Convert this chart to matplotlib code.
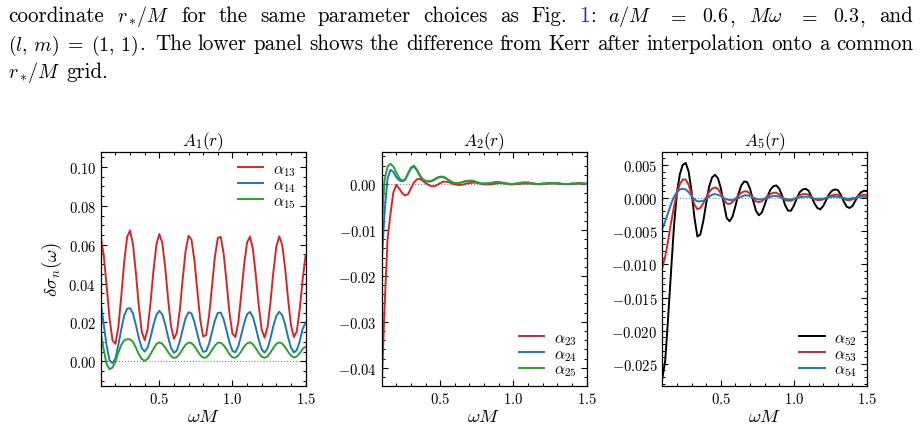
import numpy as np
import matplotlib
matplotlib.use("Agg")
import matplotlib.pyplot as plt
from matplotlib.ticker import MultipleLocator, FuncFormatter
from matplotlib.transforms import IdentityTransform

# --- style : serif / Computer Modern, ticks in ---
plt.rcParams.update({
    "font.family": "serif",
    "font.serif": ["cmr10"],
    "mathtext.fontset": "cm",
    "axes.unicode_minus": False,
    "axes.linewidth": 0.9,
    "xtick.direction": "in",
    "ytick.direction": "in",
    "xtick.top": True,
    "ytick.right": True,
    "xtick.major.size": 4.0,
    "ytick.major.size": 4.0,
    "xtick.minor.size": 2.2,
    "ytick.minor.size": 2.2,
    "xtick.major.width": 0.8,
    "ytick.major.width": 0.8,
    "xtick.minor.width": 0.7,
    "ytick.minor.width": 0.7,
    "xtick.minor.visible": True,
    "ytick.minor.visible": True,
})

# --- data ---
omega = np.round(np.arange(0.10, 1.5001, 0.02), 2)

# A1(r)
a13 = [0.0639, 0.0545, 0.0387, 0.0220, 0.0108, 0.0090, 0.0176, 0.0336, 0.0513, 0.0640,
       0.0673, 0.0602, 0.0454, 0.0284, 0.0153, 0.0109, 0.0166, 0.0302, 0.0467, 0.0600,
       0.0655, 0.0611, 0.0484, 0.0321, 0.0181, 0.0116, 0.0148, 0.0265, 0.0425, 0.0569,
       0.0646, 0.0626, 0.0518, 0.0362, 0.0214, 0.0128, 0.0135, 0.0234, 0.0386, 0.0538,
       0.0635, 0.0640, 0.0552, 0.0404, 0.0248, 0.0142, 0.0125, 0.0202, 0.0343, 0.0500,
       0.0612, 0.0641, 0.0576, 0.0440, 0.0284, 0.0163, 0.0122, 0.0177, 0.0306, 0.0463,
       0.0591, 0.0643, 0.0600, 0.0479, 0.0322, 0.0187, 0.0125, 0.0155, 0.0269, 0.0423,
       0.0545]
a14 = [0.0300, 0.0190, 0.0080, 0.0005, -0.0009, 0.0015, 0.0085, 0.0165, 0.0235, 0.0270,
       0.0274, 0.0246, 0.0187, 0.0120, 0.0068, 0.0050, 0.0072, 0.0124, 0.0188, 0.0239,
       0.0260, 0.0242, 0.0191, 0.0126, 0.0070, 0.0044, 0.0056, 0.0103, 0.0166, 0.0223,
       0.0253, 0.0246, 0.0203, 0.0141, 0.0083, 0.0049, 0.0052, 0.0090, 0.0151, 0.0211,
       0.0249, 0.0251, 0.0216, 0.0157, 0.0096, 0.0054, 0.0047, 0.0078, 0.0135, 0.0197,
       0.0243, 0.0254, 0.0228, 0.0173, 0.0110, 0.0061, 0.0045, 0.0067, 0.0119, 0.0183,
       0.0234, 0.0255, 0.0238, 0.0189, 0.0125, 0.0071, 0.0046, 0.0058, 0.0104, 0.0167,
       0.0200]
a15 = [0.0145, 0.0060, -0.0015, -0.0040, -0.0032, 0.0000, 0.0045, 0.0085, 0.0108, 0.0114,
       0.0113, 0.0100, 0.0071, 0.0037, 0.0012, 0.0003, 0.0013, 0.0037, 0.0065, 0.0089,
       0.0098, 0.0091, 0.0072, 0.0048, 0.0027, 0.0017, 0.0022, 0.0040, 0.0064, 0.0086,
       0.0097, 0.0094, 0.0078, 0.0055, 0.0032, 0.0019, 0.0020, 0.0035, 0.0058, 0.0081,
       0.0096, 0.0096, 0.0083, 0.0061, 0.0037, 0.0021, 0.0019, 0.0030, 0.0052, 0.0076,
       0.0093, 0.0098, 0.0088, 0.0067, 0.0043, 0.0024, 0.0018, 0.0026, 0.0046, 0.0070,
       0.0090, 0.0098, 0.0092, 0.0073, 0.0050, 0.0030, 0.0020, 0.0025, 0.0042, 0.0065,
       0.0075]

# A2(r)
a23 = [-0.0440, -0.0265, -0.0120, -0.0065, -0.0018, -0.0002, -0.0010, -0.0020, -0.0025, -0.0022,
       -0.0010, 0.0003, 0.0010, 0.0011, 0.0007, 0.0002, -0.0002, -0.0005, -0.0005, -0.0002,
       0.0002, 0.0005, 0.0005, 0.0004, 0.0001, -0.0001, -0.0002, -0.0002, -0.0001, 0.0001,
       0.0002, 0.0003, 0.0003, 0.0002, 0.0000, -0.0001, -0.0001, -0.0001, 0.0000, 0.0001,
       0.0002, 0.0002, 0.0001, 0.0000, -0.0001, -0.0001, 0.0000, 0.0000, 0.0001, 0.0001,
       0.0001, 0.0001, 0.0000, 0.0000, -0.0001, 0.0000, 0.0000, 0.0001, 0.0001, 0.0001,
       0.0001, 0.0000, 0.0000, 0.0000, 0.0000, 0.0000, 0.0000, 0.0001, 0.0001, 0.0000,
       0.0000]
a24 = [-0.0170, -0.0060, 0.0012, 0.0031, 0.0026, 0.0015, 0.0008, 0.0006, 0.0009, 0.0022,
       0.0034, 0.0038, 0.0030, 0.0018, 0.0010, 0.0006, 0.0005, 0.0006, 0.0009, 0.0013,
       0.0015, 0.0015, 0.0012, 0.0008, 0.0004, 0.0002, 0.0002, 0.0003, 0.0005, 0.0006,
       0.0007, 0.0007, 0.0005, 0.0003, 0.0001, 0.0001, 0.0001, 0.0002, 0.0003, 0.0004,
       0.0004, 0.0003, 0.0002, 0.0001, 0.0000, 0.0000, 0.0001, 0.0002, 0.0003, 0.0003,
       0.0003, 0.0002, 0.0001, 0.0000, 0.0000, 0.0001, 0.0001, 0.0002, 0.0002, 0.0002,
       0.0002, 0.0001, 0.0000, 0.0000, 0.0000, 0.0001, 0.0001, 0.0002, 0.0002, 0.0001,
       0.0001]
a25 = [-0.0090, 0.0010, 0.0038, 0.0044, 0.0038, 0.0025, 0.0013, 0.0007, 0.0010, 0.0023,
       0.0036, 0.0040, 0.0032, 0.0020, 0.0011, 0.0007, 0.0006, 0.0007, 0.0010, 0.0014,
       0.0016, 0.0016, 0.0013, 0.0008, 0.0004, 0.0002, 0.0002, 0.0003, 0.0005, 0.0007,
       0.0007, 0.0007, 0.0005, 0.0003, 0.0001, 0.0001, 0.0001, 0.0002, 0.0003, 0.0004,
       0.0004, 0.0003, 0.0002, 0.0001, 0.0000, 0.0000, 0.0001, 0.0002, 0.0003, 0.0003,
       0.0003, 0.0002, 0.0001, 0.0000, 0.0000, 0.0001, 0.0001, 0.0002, 0.0002, 0.0002,
       0.0002, 0.0001, 0.0000, 0.0000, 0.0000, 0.0001, 0.0001, 0.0002, 0.0002, 0.0001,
       0.0001]

# A5(r)
a52 = [-0.0272, -0.0245, -0.0180, -0.0110, -0.0042, 0.0008, 0.0036, 0.0050, 0.0053, 0.0040,
       0.0010, -0.0030, -0.0058, -0.0055, -0.0035, -0.0008, 0.0017, 0.0031, 0.0035, 0.0030,
       0.0015, -0.0008, -0.0030, -0.0035, -0.0028, -0.0012, 0.0006, 0.0019, 0.0025, 0.0024,
       0.0014, -0.0003, -0.0019, -0.0026, -0.0022, -0.0010, 0.0003, 0.0013, 0.0018, 0.0019,
       0.0014, 0.0003, -0.0011, -0.0019, -0.0019, -0.0011, 0.0000, 0.0009, 0.0013, 0.0014,
       0.0011, 0.0002, -0.0008, -0.0015, -0.0017, -0.0012, -0.0003, 0.0006, 0.0011, 0.0013,
       0.0012, 0.0005, -0.0005, -0.0013, -0.0015, -0.0012, -0.0004, 0.0004, 0.0009, 0.0011,
       0.0011]
a53 = [-0.0105, -0.0088, -0.0064, -0.0037, -0.0013, 0.0007, 0.0021, 0.0028, 0.0028, 0.0020,
       0.0005, -0.0010, -0.0017, -0.0015, -0.0008, 0.0001, 0.0009, 0.0014, 0.0016, 0.0014,
       0.0007, -0.0002, -0.0008, -0.0009, -0.0006, -0.0001, 0.0004, 0.0008, 0.0010, 0.0010,
       0.0006, 0.0000, -0.0005, -0.0006, -0.0005, -0.0001, 0.0003, 0.0006, 0.0008, 0.0008,
       0.0005, 0.0001, -0.0003, -0.0004, -0.0004, -0.0002, 0.0001, 0.0004, 0.0006, 0.0006,
       0.0005, 0.0001, -0.0002, -0.0003, -0.0003, -0.0002, 0.0000, 0.0003, 0.0004, 0.0005,
       0.0005, 0.0002, -0.0001, -0.0003, -0.0003, -0.0002, 0.0000, 0.0003, 0.0004, 0.0005,
       0.0005]
a54 = [-0.0046, -0.0035, -0.0022, -0.0009, 0.0002, 0.0009, 0.0013, 0.0014, 0.0013, 0.0009,
       0.0003, -0.0002, -0.0005, -0.0005, -0.0004, -0.0001, 0.0002, 0.0005, 0.0006, 0.0005,
       0.0003, 0.0000, -0.0002, -0.0003, -0.0003, -0.0002, 0.0000, 0.0002, 0.0004, 0.0004,
       0.0003, 0.0001, -0.0001, -0.0002, -0.0002, -0.0001, 0.0000, 0.0002, 0.0003, 0.0003,
       0.0002, 0.0000, -0.0001, -0.0002, -0.0002, -0.0001, 0.0000, 0.0001, 0.0002, 0.0002,
       0.0002, 0.0001, -0.0001, -0.0001, -0.0001, -0.0001, 0.0000, 0.0001, 0.0002, 0.0002,
       0.0002, 0.0001, 0.0000, -0.0001, -0.0001, 0.0000, 0.0000, 0.0001, 0.0002, 0.0002,
       0.0002]

RED, BLUE, GREEN, BLACK = "#d62728", "#1f77b4", "#2ca02c", "black"

panels = [
    (r"$A_1(r)$", [(a13, RED, r"$\alpha_{13}$"), (a14, BLUE, r"$\alpha_{14}$"), (a15, GREEN, r"$\alpha_{15}$")],
     (-0.0125, 0.1075), 0.02, 0.005, 2, "upper right"),
    (r"$A_2(r)$", [(a23, RED, r"$\alpha_{23}$"), (a24, BLUE, r"$\alpha_{24}$"), (a25, GREEN, r"$\alpha_{25}$")],
     (-0.0439, 0.0069), 0.01, 0.002, 2, "lower right"),
    (r"$A_5(r)$", [(a52, BLACK, r"$\alpha_{52}$"), (a53, RED, r"$\alpha_{53}$"), (a54, BLUE, r"$\alpha_{54}$")],
     (-0.0283, 0.0069), 0.005, 0.001, 3, "lower right"),
]

W, H = 921, 431
fig = plt.figure(figsize=(W / 100, H / 100), dpi=100)

lefts = [100.8, 381.7, 662.3]
ax_w, ax_top, ax_bot = 204.8, 153.3, 386.7


def math_fmt(nd):
    def f(v, pos):
        if abs(v) < 1e-12:
            v = 0.0
        return "$%.*f$" % (nd, v)
    return FuncFormatter(f)


for k, (title, series, ylim, major, minor, nd, loc) in enumerate(panels):
    ax = fig.add_axes([lefts[k] / W, (H - ax_bot) / H, ax_w / W, (ax_bot - ax_top) / H])
    ax.axhline(0, color="gray", ls=":", lw=0.8, zorder=1)
    for vals, col, lab in series:
        ax.plot(omega, vals, color=col, lw=1.4, label=lab, zorder=2)
    ax.set_xlim(0.1, 1.5)
    ax.set_ylim(*ylim)
    ax.xaxis.set_major_locator(MultipleLocator(0.5))
    ax.xaxis.set_minor_locator(MultipleLocator(0.1))
    ax.yaxis.set_major_locator(MultipleLocator(major))
    ax.yaxis.set_minor_locator(MultipleLocator(minor))
    ax.xaxis.set_major_formatter(math_fmt(1))
    ax.yaxis.set_major_formatter(math_fmt(nd))
    ax.tick_params(labelsize=10.5, pad=3.5)
    ax.set_title(title, fontsize=12.5, pad=4)
    ax.set_xlabel(r"$\omega M$", fontsize=13.5, labelpad=1)
    if k == 0:
        ax.set_ylabel(r"$\delta\sigma_n(\omega)$", fontsize=13.5, labelpad=3)
    anchor = (1.0, 1.0) if loc == "upper right" else (1.0, -0.01)
    ax.legend(loc=loc, bbox_to_anchor=anchor, frameon=False, fontsize=11.5, handlelength=1.6,
              labelspacing=0.0, handletextpad=0.6, borderaxespad=0.2)

# --- caption text above the figure (justified like TeX) ---
# each token: list of (text, colour); gap kinds after a token: "w" word, "c" after comma,
# "p" after full stop, "r" next to a relation sign
BLK, LINK = "black", "#2525c8"
line1 = [[("coordinate", BLK)], [(r"$r_*\!/M$", BLK)], [("for", BLK)], [("the", BLK)], [("same", BLK)],
         [("parameter", BLK)], [("choices", BLK)], [("as", BLK)], [("Fig.", BLK)], [("1", LINK), (":", BLK)],
         [(r"$a/M$", BLK)], [(r"$=$", BLK)], [(r"$0.6$", BLK), (",", BLK)], [(r"$M\omega$", BLK)],
         [(r"$=$", BLK)], [(r"$0.3$", BLK), (",", BLK)], [("and", BLK)]]
gaps1 = "wwwwwwwwwwrrcrrc"
line2 = [[(r"$(l,\,m)\;=\;(1,\,1)$", BLK), (".", BLK)], [("The", BLK)], [("lower", BLK)], [("panel", BLK)],
         [("shows", BLK)], [("the", BLK)], [("difference", BLK)], [("from", BLK)], [("Kerr", BLK)],
         [("after", BLK)], [("interpolation", BLK)], [("onto", BLK)], [("a", BLK)], [("common", BLK)]]
gaps2 = "pwwwwwwwwwwww"
line3 = [[(r"$r_*\!/M$", BLK)], [("grid.", BLK)]]
gaps3 = "w"

CAP_SIZE = 15.1
MATH_SCALE = 0.95
# natural space and stretch (in em), TeX-like
GAP_NAT = {"w": 0.333, "c": 0.333, "p": 0.444, "r": 0.278}
GAP_STR = {"w": 0.167, "c": 0.208, "p": 0.5, "r": 0.278}
renderer = fig.canvas.get_renderer()
em_px = CAP_SIZE * 100 / 72 * 0.87


def put_line(tokens, kinds, y_top, x0, x1, justify=True):
    y = H - y_top
    groups = []
    for tok in tokens:
        pieces = []
        for s, c in tok:
            size = CAP_SIZE * MATH_SCALE if s.startswith("$") else CAP_SIZE
            pieces.append(fig.text(0, y, s, color=c, fontsize=size, ha="left", va="baseline",
                                   transform=IdentityTransform()))
        widths = [p.get_window_extent(renderer).width for p in pieces]
        groups.append((pieces, widths))
    total = sum(sum(w) for _, w in groups)
    nat = [GAP_NAT[g] * em_px for g in kinds]
    stretch = [GAP_STR[g] * em_px for g in kinds]
    r = (x1 - x0 - total - sum(nat)) / sum(stretch) if justify else 0.0
    x = x0
    for i, (pieces, widths) in enumerate(groups):
        for p, w in zip(pieces, widths):
            p.set_position((x, y))
            x += w
        if i < len(kinds):
            x += nat[i] + r * stretch[i]


put_line(line1, gaps1, 22.5, 8.5, 913)
put_line(line2, gaps2, 50.5, 8.5, 913)
put_line(line3, gaps3, 78, 8.5, 913, justify=False)

fig.savefig("out.png", dpi=100)
